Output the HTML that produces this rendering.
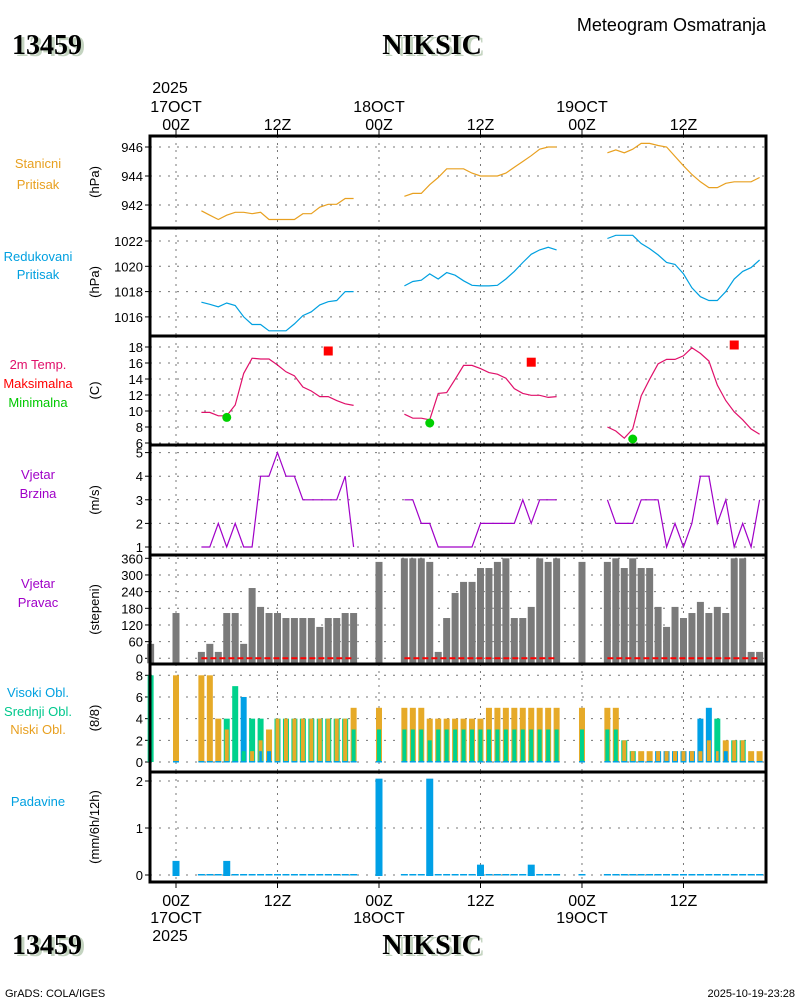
<!DOCTYPE html>
<html><head><meta charset="utf-8"><style>
html,body{margin:0;padding:0;background:#fff;}
svg{display:block;font-family:"Liberation Sans",sans-serif;}
</style></head><body>
<svg id="chart" width="800" height="1000" viewBox="0 0 800 1000" xmlns="http://www.w3.org/2000/svg">
<g>
<text x="15" y="56" font-family="Liberation Serif,serif" font-weight="bold" font-size="28" fill="#c4d4c0">13459</text>
<text x="12" y="54" font-family="Liberation Serif,serif" font-weight="bold" font-size="28" fill="#000">13459</text>
<text x="435" y="56" text-anchor="middle" font-family="Liberation Serif,serif" font-weight="bold" font-size="28" fill="#c4d4c0">NIKSIC</text>
<text x="432" y="54" text-anchor="middle" font-family="Liberation Serif,serif" font-weight="bold" font-size="28" fill="#000">NIKSIC</text>
<text x="766" y="31" text-anchor="end" font-size="18" fill="#000">Meteogram Osmatranja</text>
<text x="15" y="956" font-family="Liberation Serif,serif" font-weight="bold" font-size="28" fill="#c4d4c0">13459</text>
<text x="12" y="954" font-family="Liberation Serif,serif" font-weight="bold" font-size="28" fill="#000">13459</text>
<text x="435" y="956" text-anchor="middle" font-family="Liberation Serif,serif" font-weight="bold" font-size="28" fill="#c4d4c0">NIKSIC</text>
<text x="432" y="954" text-anchor="middle" font-family="Liberation Serif,serif" font-weight="bold" font-size="28" fill="#000">NIKSIC</text>
<text x="5" y="997" font-size="11" fill="#000">GrADS: COLA/IGES</text>
<text x="795" y="997" text-anchor="end" font-size="11" fill="#000">2025-10-19-23:28</text>
</g>
<g id="plots"></g>
</svg>
<script>
// ---- data ----
const obsHours = [3,4,5,6,7,8,9,10,11,12,13,14,15,16,17,18,19,20,21,
27,28,29,30,31,32,33,34,35,36,37,38,39,40,41,42,43,44,45,
51,52,53,54,55,56,57,58,59,60,61,62,63,64,65,66,67,68,69];
const stnPressure = [941.6,941.3,941.0,941.3,941.5,941.5,941.4,941.5,941.0,941.0,941.0,941.0,941.4,941.4,941.85,942.05,942.05,942.45,942.45,
942.6,942.8,942.8,943.4,943.9,944.5,944.5,944.5,944.2,944.0,944.0,944.0,944.2,944.6,945.0,945.4,945.85,946.0,946.0,
945.6,945.8,945.6,945.85,946.25,946.25,946.1,946.0,945.35,944.7,944.1,943.6,943.2,943.2,943.5,943.6,943.6,943.6,943.9];
const redPressure = [1017.16,1017.0,1016.8,1017.1,1016.9,1016.0,1015.4,1015.4,1014.9,1014.9,1014.9,1015.45,1016.1,1016.4,1016.95,1017.2,1017.3,1018.0,1018.0,
1018.45,1018.8,1018.9,1019.4,1019.0,1019.5,1019.3,1018.85,1018.5,1018.45,1018.45,1018.5,1019.0,1019.6,1020.3,1020.95,1021.3,1021.5,1021.3,
1022.2,1022.45,1022.45,1022.45,1021.8,1021.4,1020.9,1020.3,1020.15,1019.4,1018.3,1017.6,1017.3,1017.3,1018.0,1019.0,1019.6,1019.9,1020.5];
const temp2m = [9.83,9.83,9.4,9.4,10.75,14.7,16.6,16.5,16.5,15.75,14.9,14.4,13.0,12.5,11.8,11.8,11.3,10.9,10.7,
9.6,9.1,9.1,8.9,12.2,12.3,13.96,15.7,15.7,15.3,14.8,14.6,14.1,12.8,12.2,11.96,11.96,11.7,11.8,
8.0,7.5,6.6,7.75,11.9,13.96,15.9,16.45,16.45,16.9,17.9,17.2,16.25,13.25,11.3,9.9,8.9,7.75,7.1];
const maxHours = [18,42,66];
const maxTemp = [17.5,16.1,18.25];
const minHours = [6,30,54];
const minTemp = [9.2,8.5,6.5];
const windSpeed = [1,1,2,1,2,1,1,4,4,5,4,4,3,3,3,3,3,4,1,
3,3,2,2,1,1,1,1,1,2,2,2,2,2,3,2,3,3,3,
3,2,2,2,3,3,3,1,2,1,2,4,4,2,3,1,2,1,3];
const synHours = [-3,0,3,4,5,6,7,8,9,10,11,12,13,14,15,16,17,18,19,20,21,24,
27,28,29,30,31,32,33,34,35,36,37,38,39,40,41,42,43,44,45,48,
51,52,53,54,55,56,57,58,59,60,61,62,63,64,65,66,67,68,69];
const windDir = [52,163,23,52,23,163,163,52,253,185,163,163,145,145,145,145,113,145,145,163,163,347,
360,360,360,347,23,145,235,275,275,325,325,347,360,145,145,185,360,347,360,347,
347,360,325,360,325,325,185,113,185,145,163,203,163,185,163,360,360,23,23];
const cloudHigh = [0,0,0,0,0,0,0,6,0,1,1,0,0,0,0,0,0,0,0,0,0,0,
0,0,0,0,0,0,0,0,0,0,0,0,0,0,0,0,0,0,0,0,
0,0,0,0,0,0,1,1,1,1,1,4,5,1,1,0,0,0,0];
const cloudMid = [8,0,0,0,0,4,7,1,4,4,0,4,4,4,4,4,4,4,4,4,3,3,
3,3,3,2,3,3,3,3,3,3,3,3,3,3,3,3,3,3,3,3,
3,3,2,1,0,0,0,0,0,0,0,0,0,4,0,2,2,0,0];
const cloudLow = [0,8,8,8,4,3,0,0,1,2,3,4,4,4,4,4,4,4,4,4,5,5,
5,5,5,4,4,4,4,4,4,4,5,5,5,5,5,5,5,5,5,5,
5,5,2,1,1,1,1,1,1,1,1,1,2,1,2,2,2,1,1];
const precipHours = [0,6,24,30,36,42];
const precipVals = [0.3,0.3,2.05,2.05,0.22,0.22];
const timeTickHours = [0,12,24,36,48,60];
const timeTickLabels = ["00Z","12Z","00Z","12Z","00Z","12Z"];
const dateLabels = ["17OCT","","18OCT","","19OCT",""];

// ---- geometry ----
const L=150, R=766;
const NS="http://www.w3.org/2000/svg";
const root=document.getElementById('plots');
function xh(h){return 176+8.458*h;}
function el(tag,attrs,parent){const e=document.createElementNS(NS,tag);for(const k in attrs)e.setAttribute(k,attrs[k]);(parent||root).appendChild(e);return e;}
function txt(x,y,s,attrs,parent){const t=el('text',Object.assign({x:x,y:y},attrs),parent);t.textContent=s;return t;}
function lin(a,b,v0,v1){return p=>a+(p-v0)*(b-a)/(v1-v0);}

const panels=[
 {name:'station-pressure',top:136,bot:228,y:lin(176,147,944,946),ticks:[942,944,946],labels:[['Stanicni','#e8a020'],['Pritisak','#e8a020']],unit:'(hPa)',ly:[168,189]},
 {name:'reduced-pressure',top:228,bot:336,y:lin(266.3,241,1020,1022),ticks:[1016,1018,1020,1022],labels:[['Redukovani','#00a0e0'],['Pritisak','#00a0e0']],unit:'(hPa)',ly:[261,279]},
 {name:'temperature',top:336,bot:445,y:lin(443,347,6,18),ticks:[6,8,10,12,14,16,18],labels:[['2m Temp.','#e0106a'],['Maksimalna','#ff0000'],['Minimalna','#00c800']],unit:'(C)',ly:[369,388,407]},
 {name:'wind-speed',top:445,bot:555,y:lin(547,523.4,1,2),ticks:[1,2,3,4,5],labels:[['Vjetar','#a000c8'],['Brzina','#a000c8']],unit:'(m/s)',ly:[479,498]},
 {name:'wind-direction',top:555,bot:664,y:lin(658.3,558.3,0,360),ticks:[0,60,120,180,240,300,360],labels:[['Vjetar','#a000c8'],['Pravac','#a000c8']],unit:'(stepeni)',ly:[588,607]},
 {name:'cloud-cover',top:664,bot:772,y:lin(762,675.3,0,8),ticks:[0,2,4,6,8],labels:[['Visoki Obl.','#00a0e0'],['Srednji Obl.','#00c88c'],['Niski Obl.','#e8a020']],unit:'(8/8)',ly:[697,716,734]},
 {name:'precipitation',top:772,bot:882,y:lin(875,781,0,2),ticks:[0,1,2],labels:[['Padavine','#00a0e0']],unit:'(mm/6h/12h)',ly:[806]}
];

panels.forEach(p=>{
  const g=el('g',{});
  
  
  p.g=g;
  // grid
  timeTickHours.forEach(h=>{
    const l=el('line',{x1:xh(h),x2:xh(h),y1:p.top,y2:p.bot,stroke:'#777','stroke-width':1,'stroke-dasharray':'2,5'},g);
    
    
  });
  p.ticks.forEach(v=>{
    const yy=p.y(v);
    const l=el('line',{x1:L,x2:R,y1:yy,y2:yy,stroke:'#777','stroke-width':1,'stroke-dasharray':'2,7'},g);
    
    
    el('line',{x1:L-5,x2:L,y1:yy,y2:yy,stroke:'#000','stroke-width':1},g);
    const t=txt(L-7,yy+5,String(v),{'text-anchor':'end','font-size':13,fill:'#000'},g);
    
    
  });
  p.labels.forEach((lb,i)=>{
    const t=txt(38,p.ly[i],lb[0],{'text-anchor':'middle','font-size':13,fill:lb[1]},g);
    
    
  });
  const cy=(p.top+p.bot)/2;
  const u=txt(0,0,p.unit,{'text-anchor':'middle','font-size':13,fill:'#000',transform:'translate(99,'+cy+') rotate(-90)'},g);
  
  
});

function segLine(p,vals,color,name){
  let d='';
  for(let i=0;i<obsHours.length;i++){
    const brk=i===0||obsHours[i]-obsHours[i-1]>1;
    d+=(brk?'M':'L')+xh(obsHours[i]).toFixed(1)+','+p.y(vals[i]).toFixed(1);
  }
  const pa=el('path',{d:d,fill:'none',stroke:color,'stroke-width':1.2},p.g);
  
  
}
segLine(panels[0],stnPressure,'#e8a020','station-pressure-line');
segLine(panels[1],redPressure,'#00a0e0','reduced-pressure-line');
segLine(panels[2],temp2m,'#e0106a','temperature-line');
segLine(panels[3],windSpeed,'#a000c8','wind-speed-line');

maxHours.forEach((h,i)=>{
  const r=el('rect',{x:xh(h)-4.5,y:panels[2].y(maxTemp[i])-4.5,width:9,height:9,fill:'#ff0000'},panels[2].g);
  
  
});
minHours.forEach((h,i)=>{
  const c=el('circle',{cx:xh(h),cy:panels[2].y(minTemp[i]),r:4.5,fill:'#00d000'},panels[2].g);
  
  
});

// wind direction bars
const pd=panels[4];
synHours.forEach((h,i)=>{
  const y0=pd.y(0), y1=pd.y(windDir[i]);
  const r=el('rect',{x:xh(h)-3.5,y:y1,width:7,height:y0-y1+5,fill:'#7a7a7a'},pd.g);
  
  
});
[[3,21],[27,45],[51,69]].forEach(s=>{
  const l=el('line',{x1:xh(s[0]),x2:xh(s[1]),y1:pd.y(0),y2:pd.y(0),stroke:'#ff0000','stroke-width':2,'stroke-dasharray':'6,3'},pd.g);
  
  
});

// clouds
const pc=panels[5];
const ccol={h:'#00a0e6',m:'#00d28c',l:'#e6aa28'};
synHours.forEach((h,i)=>{
  const arr=[['h',cloudHigh[i]],['m',cloudMid[i]],['l',cloudLow[i]]].filter(a=>a[1]>0).sort((a,b)=>b[1]-a[1]);
  const widths=[6,4,2.6];
  arr.forEach((a,k)=>{
    const y1=pc.y(a[1]), y0=pc.y(0);
    const r=el('rect',{x:xh(h)-widths[k]/2,y:y1,width:widths[k],height:y0-y1,fill:ccol[a[0]]},pc.g);
    
    
  });
  if(h>=0){
    const z=el('rect',{x:xh(h)-3,y:pc.y(0)-1,width:6,height:1.5,fill:'#00a0e6'},pc.g);
    
    
  }
});

// precipitation
const pp=panels[6];
synHours.forEach(h=>{
  if(h<0)return;
  const z=el('rect',{x:xh(h)-3.5,y:pp.y(0)-1,width:7,height:1.5,fill:'#00a0e6'},pp.g);
  
  
});
precipHours.forEach((h,i)=>{
  const y1=pp.y(precipVals[i]);
  const r=el('rect',{x:xh(h)-3.5,y:y1,width:7,height:pp.y(0)-y1+1,fill:'#00a0e6'},pp.g);
  
  
});

// frames
panels.forEach(p=>{
  const f=el('rect',{x:L,y:p.top,width:R-L,height:p.bot-p.top,fill:'none',stroke:'#000','stroke-width':3});
  
  
});

// time axes
const ax=el('g',{});


timeTickHours.forEach((h,i)=>{
  const x=xh(h);
  el('line',{x1:x,x2:x,y1:130,y2:136,stroke:'#000','stroke-width':1},ax);
  el('line',{x1:x,x2:x,y1:882,y2:888,stroke:'#000','stroke-width':1},ax);
  const t1=txt(x,130,timeTickLabels[i],{'text-anchor':'middle','font-size':16,fill:'#000'},ax);
  
  
  const t2=txt(x,906,timeTickLabels[i],{'text-anchor':'middle','font-size':16,fill:'#000'},ax);
  
  
  if(dateLabels[i]){
    const d1=txt(x,112,dateLabels[i],{'text-anchor':'middle','font-size':16,fill:'#000'},ax);
    
    
    const d2=txt(x,923,dateLabels[i],{'text-anchor':'middle','font-size':16,fill:'#000'},ax);
    
    
  }
});
const y1=txt(xh(0)-6,93,'2025',{'text-anchor':'middle','font-size':16,fill:'#000'},ax);


const y2=txt(xh(0)-6,941,'2025',{'text-anchor':'middle','font-size':16,fill:'#000'},ax);


</script>
</body></html>
